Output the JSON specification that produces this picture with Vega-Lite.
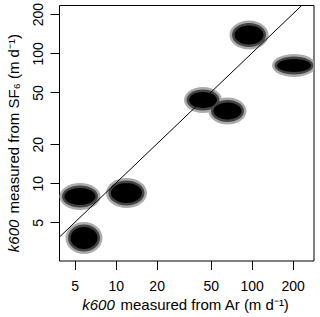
{
  "$schema": "https://vega.github.io/schema/vega-lite/v6.json",
  "autosize": "none",
  "width": 254.5,
  "height": 255.5,
  "padding": {"left": 59, "top": 5, "right": 6.5, "bottom": 56.5},
  "background": "white",
  "config": {
    "view": {"stroke": "black", "strokeWidth": 1},
    "font": "Liberation Sans",
    "axis": {
      "grid": false, "domain": false,
      "tickSize": 9, "tickColor": "black", "tickWidth": 1,
      "labelFontSize": 14, "labelColor": "black", "labelFont": "Liberation Sans",
      "labelFlush": false, "labelOverlap": false,
      "titleFont": "Liberation Sans", "titleFontSize": 15, "titleFontWeight": "normal", "titleColor": "black"
    }
  },
  "datasets": {
    "clusters": [
      {"cluster": 1, "ar": 5.464, "sf6": 7.916},
      {"cluster": 2, "ar": 12.006, "sf6": 8.421},
      {"cluster": 3, "ar": 5.847, "sf6": 3.795},
      {"cluster": 4, "ar": 43.84, "sf6": 43.73},
      {"cluster": 5, "ar": 66.38, "sf6": 35.99},
      {"cluster": 6, "ar": 95.53, "sf6": 138.3},
      {"cluster": 7, "ar": 204.7, "sf6": 80.56}
    ],
    "oneToOne": [
      {"ar": 3.83, "sf6": 3.83},
      {"ar": 284.7, "sf6": 284.7}
    ]
  },
  "layer": [
    {
      "data": {"name": "clusters"},
      "mark": {"type": "point", "filled": true, "color": "#ababab", "size": 4, "opacity": 1, "strokeWidth": 0, "clip": true},
      "encoding": {
        "x": {
          "field": "ar", "type": "quantitative",
          "scale": {"type": "log", "domain": [3.83, 284.7], "nice": false, "zero": false},
          "axis": {
            "orient": "bottom", "values": [5, 10, 20, 50, 100, 200], "format": "d",
            "labelBaseline": "alphabetic", "labelPadding": 21,
            "title": "k600", "titleFontStyle": "italic",
            "titleAlign": "left", "titleBaseline": "alphabetic", "titleX": 22.7, "titleY": 48.5
          }
        },
        "y": {
          "field": "sf6", "type": "quantitative",
          "scale": {"type": "log", "domain": [2.548, 235.2], "nice": false, "zero": false},
          "axis": {
            "orient": "left", "values": [5, 10, 20, 50, 100, 200], "format": "d",
            "labelAngle": -90, "labelAlign": "center", "labelBaseline": "alphabetic", "labelPadding": 8,
            "title": "k600", "titleFontStyle": "italic",
            "titleAngle": -90, "titleAlign": "left", "titleBaseline": "alphabetic", "titleX": -41, "titleY": 246.7
          }
        },
        "shape": {
          "field": "cluster", "type": "nominal", "legend": null,
          "scale": {
            "domain": [1, 2, 3, 4, 5, 6, 7],
            "range": [
              "M-20.5,0A20.5,13.5,0,1,0,20.5,0A20.5,13.5,0,1,0,-20.5,0Z",
              "M-20.5,0A20.5,15,0,1,0,20.5,0A20.5,15,0,1,0,-20.5,0Z",
              "M-18.5,0A18.5,16,0,1,0,18.5,0A18.5,16,0,1,0,-18.5,0Z",
              "M-19,0A19,13,0,1,0,19,0A19,13,0,1,0,-19,0Z",
              "M-19,0A19,13.5,0,1,0,19,0A19,13.5,0,1,0,-19,0Z",
              "M-19.5,0A19.5,14.5,0,1,0,19.5,0A19.5,14.5,0,1,0,-19.5,0Z",
              "M-22,0A22,11.5,0,1,0,22,0A22,11.5,0,1,0,-22,0Z"
            ]
          }
        }
      }
    },
    {
      "data": {"name": "clusters"},
      "mark": {"type": "point", "filled": true, "color": "#444444", "size": 4, "opacity": 1, "strokeWidth": 0, "clip": true},
      "encoding": {
        "x": {
          "field": "ar", "type": "quantitative",
          "axis": {
            "orient": "bottom", "ticks": false, "labels": false,
            "title": "measured from Ar (m d⁻¹)",
            "titleAlign": "left", "titleBaseline": "alphabetic", "titleX": 61, "titleY": 48.5
          }
        },
        "y": {
          "field": "sf6", "type": "quantitative",
          "axis": {
            "orient": "left", "ticks": false, "labels": false,
            "title": "measured from SF₆ (m d⁻¹)",
            "titleAngle": -90, "titleAlign": "left", "titleBaseline": "alphabetic", "titleX": -41, "titleY": 208
          }
        },
        "shape": {
          "field": "cluster", "type": "nominal", "legend": null,
          "scale": {
            "domain": [1, 2, 3, 4, 5, 6, 7],
            "range": [
              "M-18,0A18,11,0,1,0,18,0A18,11,0,1,0,-18,0Z",
              "M-18,0A18,12.5,0,1,0,18,0A18,12.5,0,1,0,-18,0Z",
              "M-16,0A16,13.5,0,1,0,16,0A16,13.5,0,1,0,-16,0Z",
              "M-16.5,0A16.5,10.5,0,1,0,16.5,0A16.5,10.5,0,1,0,-16.5,0Z",
              "M-16.5,0A16.5,11,0,1,0,16.5,0A16.5,11,0,1,0,-16.5,0Z",
              "M-17,0A17,12,0,1,0,17,0A17,12,0,1,0,-17,0Z",
              "M-19.5,0A19.5,9,0,1,0,19.5,0A19.5,9,0,1,0,-19.5,0Z"
            ]
          }
        }
      }
    },
    {
      "data": {"name": "clusters"},
      "mark": {"type": "point", "filled": true, "color": "black", "size": 4, "opacity": 1, "strokeWidth": 0, "clip": true},
      "encoding": {
        "x": {"field": "ar", "type": "quantitative", "axis": null},
        "y": {"field": "sf6", "type": "quantitative", "axis": null},
        "shape": {
          "field": "cluster", "type": "nominal", "legend": null,
          "scale": {
            "domain": [1, 2, 3, 4, 5, 6, 7],
            "range": [
              "M-15.5,0A15.5,8.5,0,1,0,15.5,0A15.5,8.5,0,1,0,-15.5,0Z",
              "M-15.5,0A15.5,10,0,1,0,15.5,0A15.5,10,0,1,0,-15.5,0Z",
              "M-13.5,0A13.5,11,0,1,0,13.5,0A13.5,11,0,1,0,-13.5,0Z",
              "M-14,0A14,8,0,1,0,14,0A14,8,0,1,0,-14,0Z",
              "M-14,0A14,8.5,0,1,0,14,0A14,8.5,0,1,0,-14,0Z",
              "M-14.5,0A14.5,9.5,0,1,0,14.5,0A14.5,9.5,0,1,0,-14.5,0Z",
              "M-17,0A17,6.5,0,1,0,17,0A17,6.5,0,1,0,-17,0Z"
            ]
          }
        }
      }
    },
    {
      "data": {"name": "oneToOne"},
      "mark": {"type": "line", "color": "black", "strokeWidth": 1, "clip": true},
      "encoding": {
        "x": {"field": "ar", "type": "quantitative", "axis": null},
        "y": {"field": "sf6", "type": "quantitative", "axis": null}
      }
    }
  ],
  "resolve": {"scale": {"shape": "independent"}, "axis": {"x": "independent", "y": "independent"}}
}
